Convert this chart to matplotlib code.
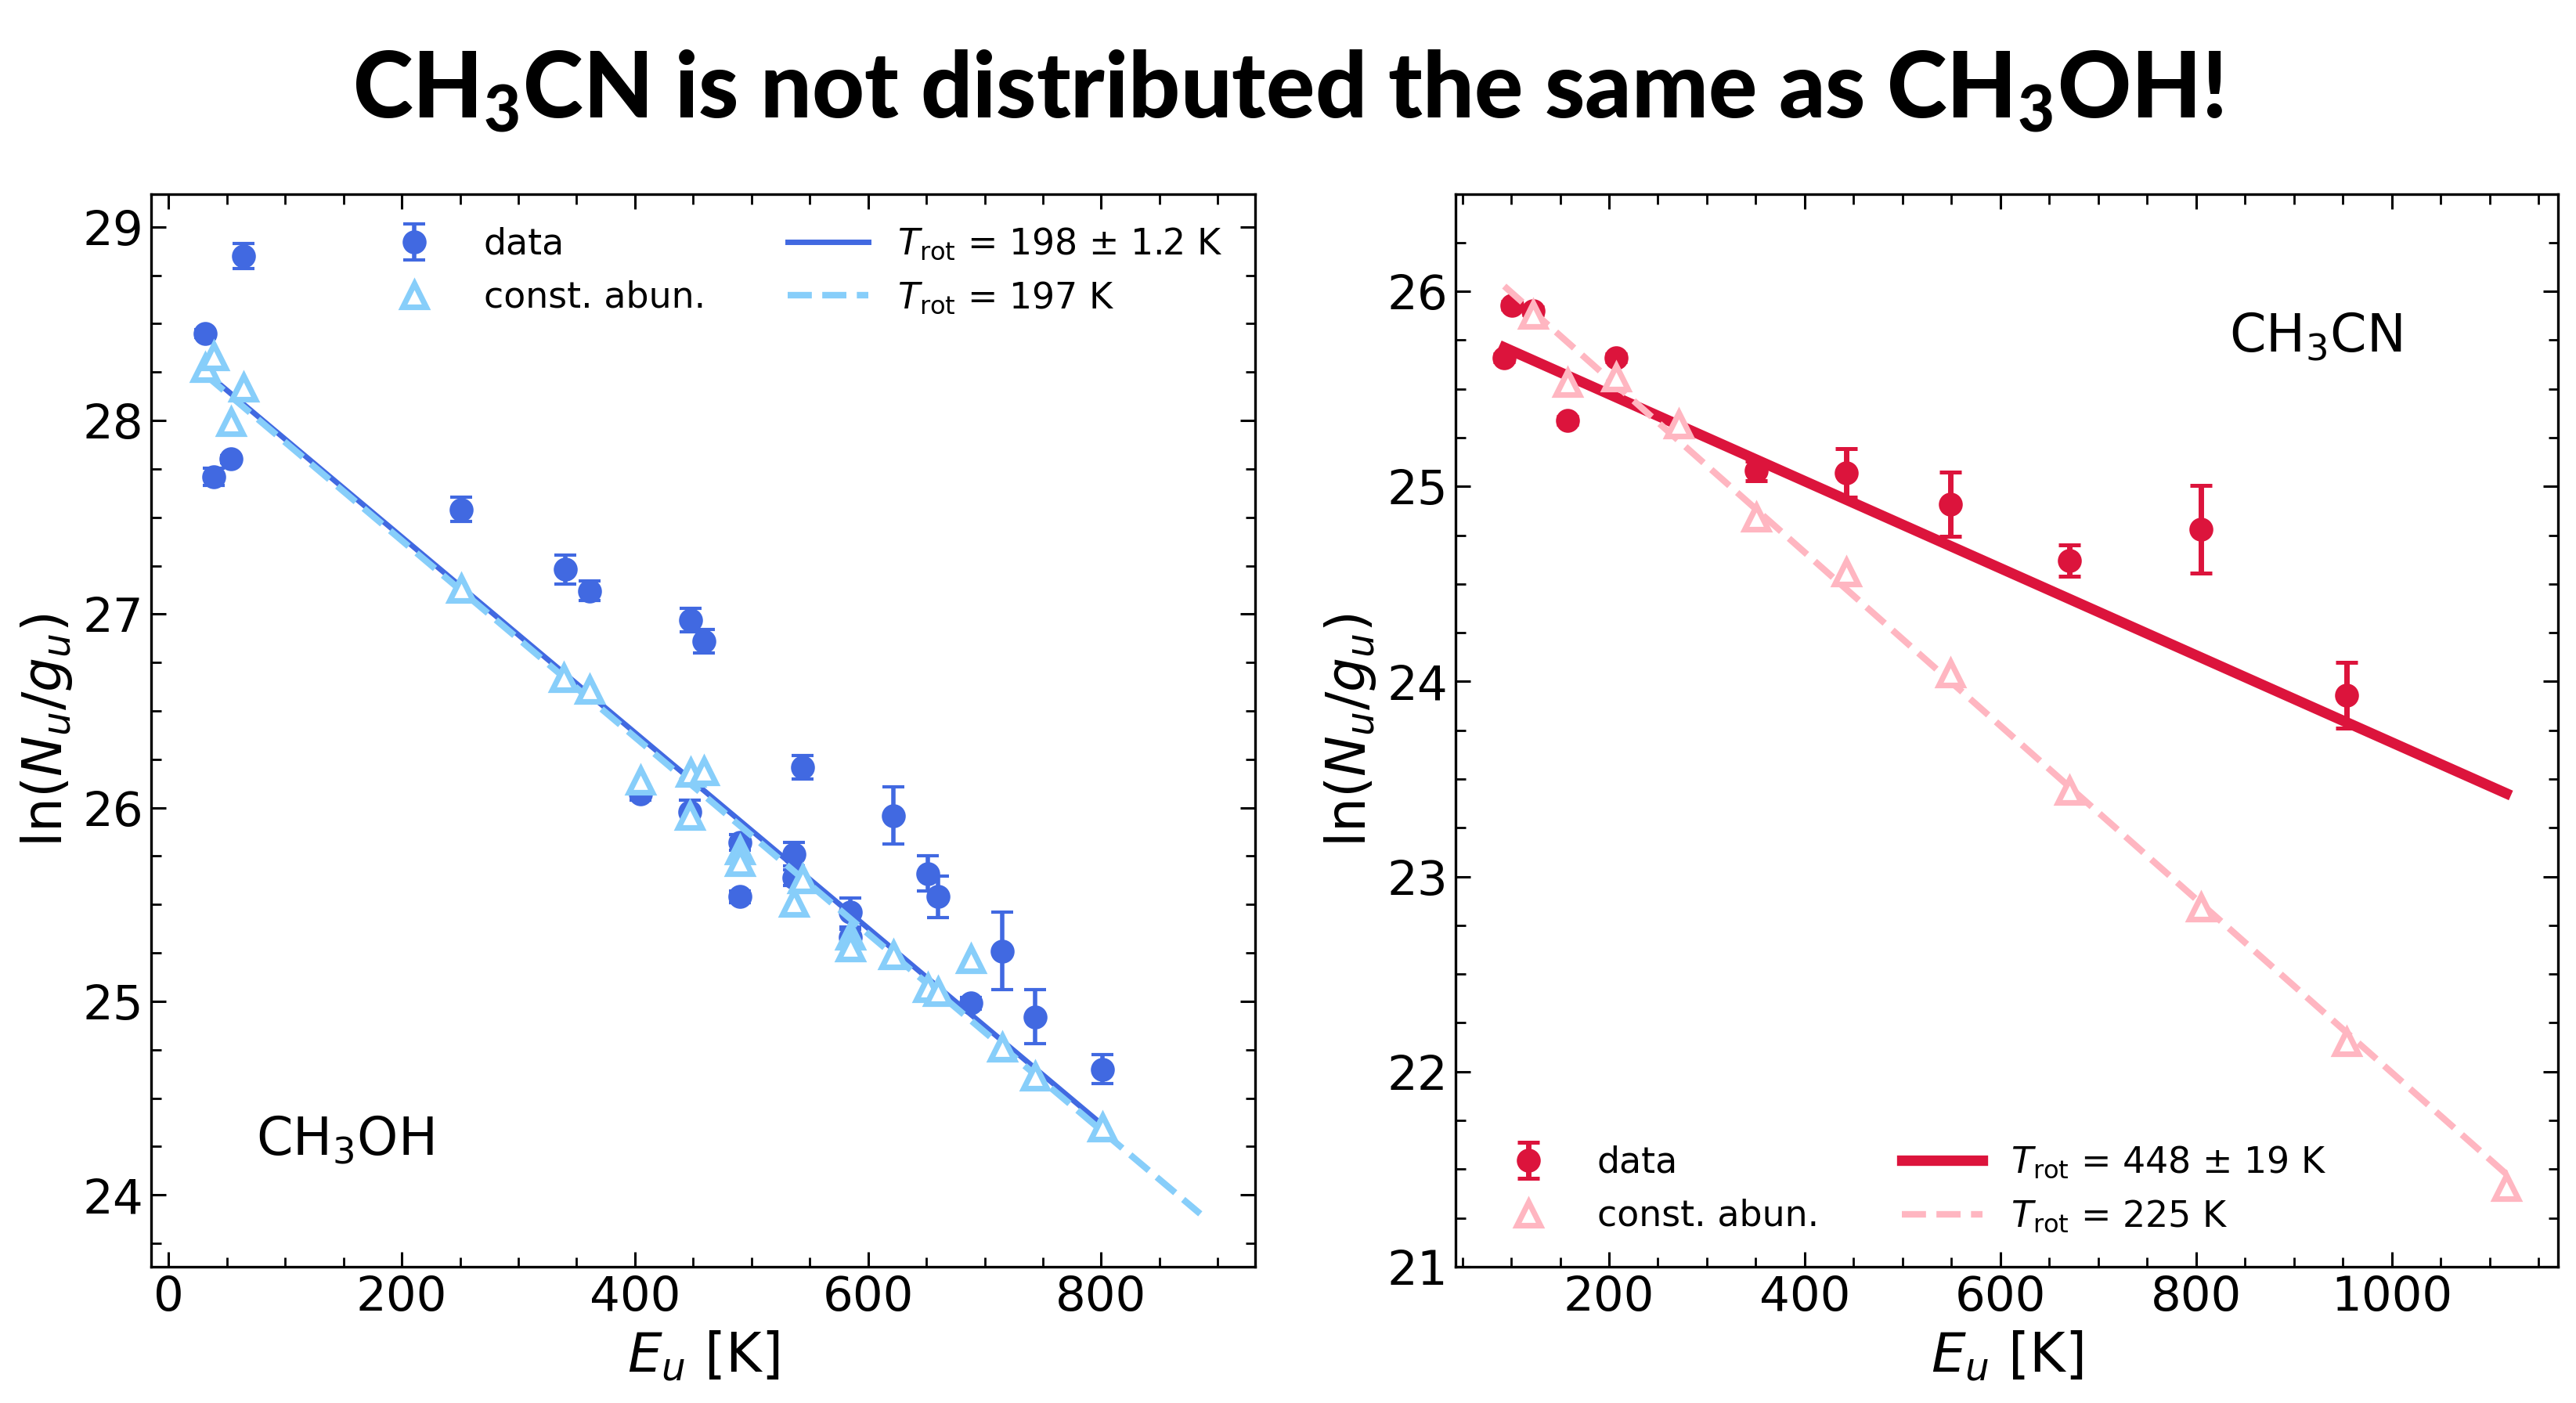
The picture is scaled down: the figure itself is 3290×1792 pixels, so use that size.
import matplotlib
matplotlib.use('Agg')
import matplotlib.pyplot as plt
import numpy as np
from matplotlib.ticker import MultipleLocator

# CH3OH (left panel)
meth_E = [31.2, 38.7, 53.3, 64.2, 250.9, 340, 361, 448, 459, 544, 405, 447, 490, 490,
          536.5, 536.5, 584.5, 584.5, 622, 651, 660, 688, 715, 743.5, 801]
meth_y = [28.45, 27.71, 27.80, 28.85, 27.54, 27.23, 27.12, 26.97, 26.86, 26.21, 26.07, 25.98, 25.82, 25.54,
          25.76, 25.64, 25.46, 25.33, 25.96, 25.66, 25.54, 24.99, 25.26, 24.92, 24.65]
meth_err = [0.02, 0.044, 0.02, 0.065, 0.062, 0.076, 0.05, 0.06, 0.06, 0.06, 0.03, 0.06, 0.04, 0.03,
            0.06, 0.04, 0.075, 0.04, 0.148, 0.09, 0.107, 0.03, 0.2, 0.14, 0.073]
meth_const_E = [31.2, 38.7, 53.3, 64.2, 250.9, 339, 361, 405, 448, 459, 447, 490, 490,
                536.5, 544, 584.5, 584.5, 622, 651, 660, 688, 715, 743.5, 801]
meth_const_y = [28.27, 28.33, 27.99, 28.17, 27.13, 26.67, 26.61, 26.14, 26.18, 26.19, 25.96, 25.78, 25.72,
                25.51, 25.63, 25.34, 25.28, 25.24, 25.07, 25.05, 25.22, 24.76, 24.61, 24.35]
# fits: ln(N/g) = a - E/T
meth_fit_T, meth_fit_a, meth_fit_range = 198, 28.408, [31.2, 801]
meth_cfit_T, meth_cfit_a, meth_cfit_range = 197, 28.395, [31.2, 885]

# CH3CN (right panel)
cn_E = [92.9, 100.8, 122, 157.7, 207.5, 350.3, 442.7, 549, 670.6, 805, 954]
cn_y = [25.66, 25.93, 25.90, 25.34, 25.66, 25.08, 25.07, 24.91, 24.62, 24.78, 23.93]
cn_err = [0.02, 0.02, 0.02, 0.02, 0.02, 0.05, 0.126, 0.164, 0.082, 0.225, 0.17]
cn_const_E = [122, 157.7, 207.5, 271.6, 350.3, 442.7, 549, 670.6, 805, 954, 1117]
cn_const_y = [25.88, 25.53, 25.56, 25.32, 24.84, 24.56, 24.04, 23.44, 22.84, 22.15, 21.41]
cn_fit_T, cn_fit_a, cn_fit_range = 448, 25.92, [92.9, 1117]
cn_cfit_T, cn_cfit_a, cn_cfit_range = 225, 26.44, [92.9, 1117]


def fitline(a, T, rng):
    x = np.array(rng, dtype=float)
    return x, a - x / T


def style_axes(ax):
    ax.tick_params(which='both', direction='in', top=True, right=True, labelsize=22)
    ax.tick_params(which='major', length=7, width=1.1)
    ax.tick_params(which='minor', length=4.5, width=1)
    for s in ax.spines.values():
        s.set_linewidth(1.2)
    ax.xaxis.set_minor_locator(MultipleLocator(50))
    ax.yaxis.set_minor_locator(MultipleLocator(0.25))
    ax.set_xlabel(r'$E_u$ [K]', fontsize=25)
    ax.set_ylabel(r'ln($N_u/g_u$)', fontsize=25)


fig = plt.figure(figsize=(16.45, 8.96), dpi=200)

# left panel
ax = fig.add_axes([0.0587, 0.0972, 0.4285, 0.7646])
h1 = ax.errorbar(meth_E, meth_y, yerr=meth_err, fmt='o', color='royalblue', ms=10,
                 elinewidth=2, capsize=5, capthick=1.5, zorder=2, label='data')
x, y = fitline(meth_fit_a, meth_fit_T, meth_fit_range)
h3, = ax.plot(x, y, '-', color='royalblue', lw=2.5, zorder=3,
              label=r'$T_{\rm rot}$ = 198 ± 1.2 K')
x, y = fitline(meth_cfit_a, meth_cfit_T, meth_cfit_range)
h4, = ax.plot(x, y, '--', color='lightskyblue', lw=3, zorder=4,
              label=r'$T_{\rm rot}$ = 197 K')
h2, = ax.plot(meth_const_E, meth_const_y, '^', ms=11, mfc='white', mec='lightskyblue',
              mew=2.6, zorder=5, label='const. abun.')
ax.set_xlim(-15, 932)
ax.set_ylim(23.63, 29.17)
ax.xaxis.set_major_locator(MultipleLocator(200))
ax.yaxis.set_major_locator(MultipleLocator(1))
style_axes(ax)
ax.legend(handles=[h1, h2, h3, h4], ncol=2, loc='upper right', frameon=False, fontsize=16.5,
          handlelength=2.25, handletextpad=0.8, columnspacing=2.3)
ax.text(0.095, 0.118, r'CH$_\mathregular{3}$OH', transform=ax.transAxes, fontsize=24, va='center')

# right panel
bx = fig.add_axes([0.565, 0.0972, 0.428, 0.7646])
g1 = bx.errorbar(cn_E, cn_y, yerr=cn_err, fmt='o', color='crimson', ms=10,
                 elinewidth=2.5, capsize=5, capthick=1.8, zorder=2, label='data')
x, y = fitline(cn_fit_a, cn_fit_T, cn_fit_range)
g3, = bx.plot(x, y, '-', color='crimson', lw=4.8, zorder=3,
              label=r'$T_{\rm rot}$ = 448 ± 19 K')
x, y = fitline(cn_cfit_a, cn_cfit_T, cn_cfit_range)
g4, = bx.plot(x, y, '--', color='lightpink', lw=3, zorder=4,
              label=r'$T_{\rm rot}$ = 225 K')
g2, = bx.plot(cn_const_E, cn_const_y, '^', ms=11, mfc='white', mec='lightpink',
              mew=2.6, zorder=5, label='const. abun.')
bx.set_xlim(43, 1170)
bx.set_ylim(21, 26.5)
bx.xaxis.set_major_locator(MultipleLocator(200))
bx.yaxis.set_major_locator(MultipleLocator(1))
style_axes(bx)
bx.legend(handles=[g1, g2, g3, g4], ncol=2, loc='lower left', frameon=False, fontsize=16.5,
          handlelength=2.25, handletextpad=0.8, columnspacing=2.3)
bx.text(0.702, 0.867, r'CH$_\mathregular{3}$CN', transform=bx.transAxes, fontsize=24, va='center')

fig.text(0.5, 0.916, r'CH$_\mathregular{3}$CN is not distributed the same as CH$_\mathregular{3}$OH!',
         ha='center', va='baseline', fontsize=41.8, family='Lato', weight='black')

fig.savefig('out.png', dpi=200)
